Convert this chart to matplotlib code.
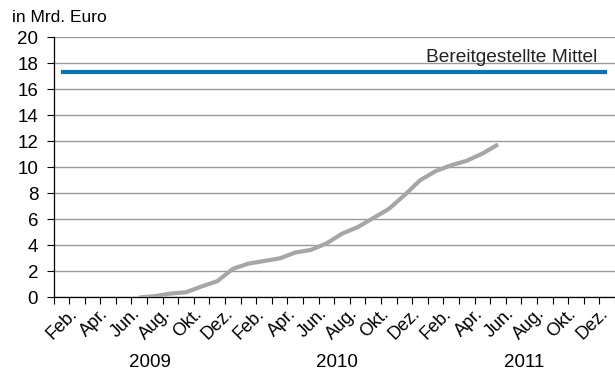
import matplotlib
matplotlib.use("Agg")
import matplotlib.pyplot as plt
import numpy as np

plt.rcParams['font.family'] = ['Liberation Sans', 'DejaVu Sans']

# Monthly axis: Jan 2009 .. Dec 2011
years = ["2009", "2010", "2011"]
month_labels = ["Feb.", "Apr.", "Jun.", "Aug.", "Okt.", "Dez."]

# Provided funds (constant), Jan 2009 - Dec 2011
funds_level = 17.3
# Cumulative use, Jun 2009 - May 2011
used_start_month = 5
used = [0.0, 0.1, 0.3, 0.4, 0.85, 1.25, 2.2, 2.6, 2.8, 3.0, 3.45, 3.65,
        4.15, 4.9, 5.4, 6.1, 6.8, 7.85, 9.0, 9.7, 10.15, 10.5, 11.05, 11.75]

n_months = 12 * len(years)

fig = plt.figure(figsize=(6.15, 3.70), dpi=100)
ax = fig.add_axes([0.087, 0.196, 0.913, 0.704])

x_all = np.arange(n_months) + 0.5
ax.plot(x_all, [funds_level] * n_months, color='#0a72b8', lw=3.0,
        solid_capstyle='butt', zorder=3)
x_used = np.arange(used_start_month, used_start_month + len(used)) + 0.5
ax.plot(x_used, used, color='#a6a6a6', lw=3.0, solid_capstyle='butt',
        solid_joinstyle='miter', zorder=3)

ax.text(34.84, 18.1, "Bereitgestellte Mittel", ha='right', va='baseline',
        fontsize=13.8, color='#222222')

ax.set_xlim(0, n_months)
ax.set_ylim(0, 20)
ax.set_yticks(np.arange(0, 21, 2))
ax.tick_params(axis='y', labelsize=13.5, length=5, width=0.8, pad=6)
ax.yaxis.grid(True, color='#999999', lw=1.0)
ax.set_axisbelow(True)

# month boundaries as tick marks, labels every second month
ax.set_xticks(np.arange(0, n_months + 1))
ax.set_xticklabels([])
ax.tick_params(axis='x', which='major', length=5, width=0.8)
label_pos = []
label_txt = []
for y in range(len(years)):
    for k, m in enumerate(month_labels):
        label_pos.append(12 * y + 2 * k + 0.97)
        label_txt.append(m)
ax.set_xticks(label_pos, minor=True)
ax.set_xticklabels(label_txt, minor=True, rotation=45, ha='right',
                   va='top', rotation_mode='anchor', fontsize=13)
ax.tick_params(axis='x', which='minor', length=0, pad=5.5)

for i, yr in enumerate(years):
    ax.text(12 * i + 6.2, -0.248, yr, transform=ax.get_xaxis_transform(),
            ha='center', va='center', fontsize=13.5)

for s in ['top', 'right']:
    ax.spines[s].set_visible(False)
ax.spines['left'].set_linewidth(0.9)
ax.spines['bottom'].set_linewidth(0.9)

fig.text(12 / 615, 1 - 17 / 370, "in Mrd. Euro", ha='left', va='center',
         fontsize=12.5)

fig.savefig("out.png", dpi=100)
